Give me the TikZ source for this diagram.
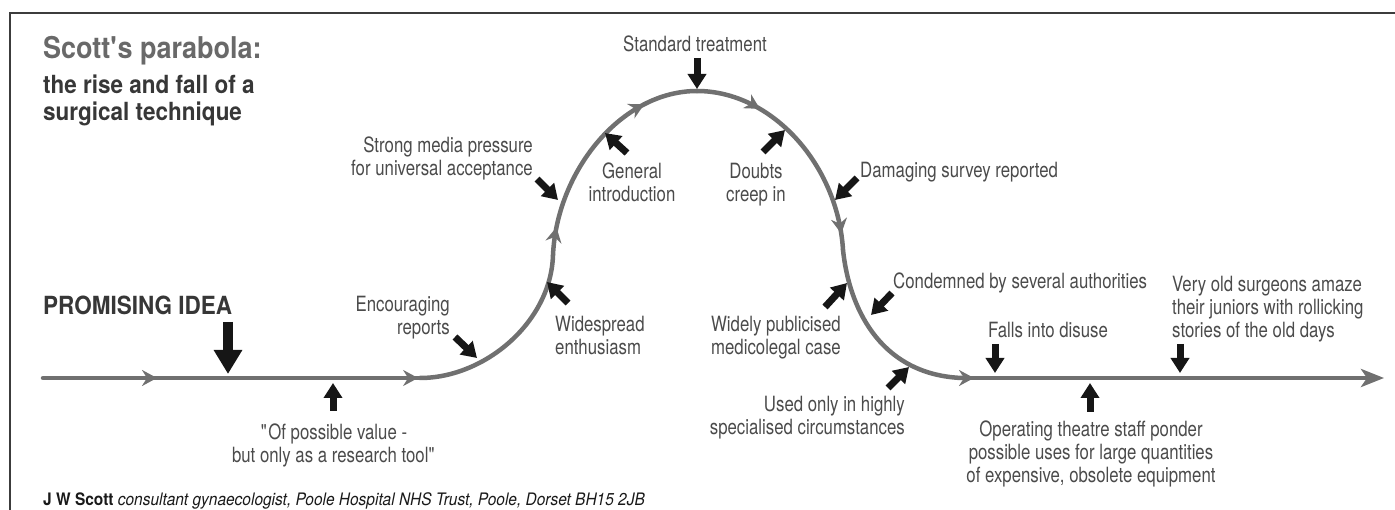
\documentclass[tikz,border=0pt]{standalone}
\usepackage{fontspec}
\setmainfont{TeX Gyre Heros}[FakeStretch=0.8]
\newfontfamily\headfont{TeX Gyre Heros}[FakeStretch=0.9]
\usetikzlibrary{arrows.meta, decorations.markings}
\definecolor{trackGray}{RGB}{112,112,112}
\definecolor{labelGray}{RGB}{75,75,75}
\definecolor{titleGray}{RGB}{105,105,105}
\definecolor{headDark}{RGB}{55,55,55}
\definecolor{frameDark}{RGB}{60,60,60}
\definecolor{pointerBlack}{RGB}{22,22,22}
\newcommand{\labelfont}{\fontsize{21}{23}\selectfont}
\tikzset{
    track/.style={draw=trackGray, line width=4.5pt, line cap=round},
    tick at/.style={
        postaction={decorate, decoration={markings,
            mark=at position #1 with {\arrow[trackGray]{Stealth[length=15pt, width=16pt, inset=5pt]}}}}
    },
    pointer/.style={draw=pointerBlack, line width=7pt, -{Triangle[length=15pt, width=18pt]}},
    bigpointer/.style={draw=pointerBlack, line width=10pt, -{Triangle[length=24pt, width=27pt]}},
    label/.style={font=\labelfont, text=labelGray, inner sep=0pt},
    heading/.style={font=\headfont\bfseries, inner sep=0pt, anchor=north west}
}

\begin{document}
\begin{tikzpicture}[x=1pt, y=-1pt]
    \useasboundingbox (0,0) rectangle (1395,510);
    % frame, top and left edges only
    \draw[frameDark, line width=2pt] (10,510) -- (10,13) -- (1395,13);

    % headings
    \node[heading, text=titleGray, font=\headfont\bfseries\fontsize{30}{32}\selectfont] (title) at (43,36) {Scott\textquotesingle s parabola:};
    \node[heading, text=headDark, align=left, font=\headfont\bfseries\fontsize{25}{27}\selectfont] (subtitle) at (43,75) {the rise and fall of a\\surgical technique};
    \node[heading, text=headDark, font=\headfont\bfseries\fontsize{25}{27}\selectfont] (idea) at (43,296) {PROMISING IDEA};

    % the parabola
    \coordinate (lineStart) at (43,378);
    \coordinate (riseStart) at (420,378);
    \coordinate (climb) at (553,255);
    \coordinate (peak) at (697,91);
    \coordinate (fall) at (843,250);
    \coordinate (settle) at (962,378);
    \coordinate (lineEnd) at (1384,378);

    \draw[track, tick at=114pt, tick at=0.995] (lineStart) -- (riseStart);
    \draw[track] (riseStart) .. controls (485,378) and (551,322) .. (climb);
    \draw[track, tick at=28pt, tick at=0.77] (climb) .. controls (557,170) and (622,91) .. (peak);
    \draw[track, tick at=0.28, tick at=0.93] (peak) .. controls (772,91) and (838,165) .. (fall);
    \draw[track] (fall) .. controls (850,315) and (885,375) .. (settle);
    \draw[track, tick at=12pt, -{Stealth[length=23pt, width=18pt, inset=6pt]}] (settle) -- (lineEnd);

    % labels
    \node[label, anchor=north] (standard) at (695,36) {Standard treatment};
    \node[label, anchor=north east, align=right] (media) at (533,137) {Strong media pressure\\for universal acceptance};
    \node[label, anchor=north, align=center] (general) at (632,163) {General\\introduction};
    \node[label, anchor=north, align=center] (doubts) at (756,163) {Doubts\\creep in};
    \node[label, anchor=north west] (survey) at (860,162) {Damaging survey reported};
    \node[label, anchor=north east, align=right] (encouraging) at (450,296) {Encouraging\\reports};
    \node[label, anchor=north west, align=left] (widespread) at (555,316) {Widespread\\enthusiasm};
    \node[label, anchor=north east, align=right] (publicised) at (841,316) {Widely publicised\\medicolegal case};
    \node[label, anchor=north west] (condemned) at (893,273) {Condemned by several authorities};
    \node[label, anchor=north east, align=right] (specialised) at (905,396) {Used only in highly\\specialised circumstances};
    \node[label, anchor=north west] (disuse) at (988,322) {Falls into disuse};
    \node[label, anchor=north west, align=left] (oldtimers) at (1172,276) {Very old surgeons amaze\\their juniors with rollicking\\stories of the old days};
    \node[label, anchor=north, align=center] (ponder) at (1091,421) {Operating theatre staff ponder\\possible uses for large quantities\\of expensive, obsolete equipment};
    \node[label, anchor=north, align=center] (research) at (334,424) {\textquotedbl Of possible value -\\but only as a research tool\textquotedbl};

    % pointer ends
    \coordinate (ideaTail) at (228,322);      \coordinate (ideaTip) at (228,374);
    \coordinate (researchTail) at (333,411);  \coordinate (researchTip) at (333,383);
    \coordinate (encTail) at (455,337);       \coordinate (encTip) at (477,358);
    \coordinate (wideTail) at (568,303);      \coordinate (wideTip) at (547,282);
    \coordinate (mediaTail) at (537,179);     \coordinate (mediaTip) at (558,200);
    \coordinate (generalTail) at (627,153);   \coordinate (generalTip) at (605,133);
    \coordinate (standardTail) at (697,58);   \coordinate (standardTip) at (697,89);
    \coordinate (doubtsTail) at (763,152);    \coordinate (doubtsTip) at (785,130);
    \coordinate (surveyTail) at (857,178);    \coordinate (surveyTip) at (835,200);
    \coordinate (pubTail) at (825,307);       \coordinate (pubTip) at (847,283);
    \coordinate (condTail) at (892,293);      \coordinate (condTip) at (871,315);
    \coordinate (specTail) at (888,388);      \coordinate (specTip) at (909,367);
    \coordinate (disuseTail) at (995,344);    \coordinate (disuseTip) at (995,373);
    \coordinate (ponderTail) at (1090,412);   \coordinate (ponderTip) at (1090,383);
    \coordinate (oldTail) at (1180,344);      \coordinate (oldTip) at (1180,373);

    \draw[bigpointer] (ideaTail) -- (ideaTip);
    \draw[pointer] (researchTail) -- (researchTip);
    \draw[pointer] (encTail) -- (encTip);
    \draw[pointer] (wideTail) -- (wideTip);
    \draw[pointer] (mediaTail) -- (mediaTip);
    \draw[pointer] (generalTail) -- (generalTip);
    \draw[pointer] (standardTail) -- (standardTip);
    \draw[pointer] (doubtsTail) -- (doubtsTip);
    \draw[pointer] (surveyTail) -- (surveyTip);
    \draw[pointer] (pubTail) -- (pubTip);
    \draw[pointer] (condTail) -- (condTip);
    \draw[pointer] (specTail) -- (specTip);
    \draw[pointer] (disuseTail) -- (disuseTip);
    \draw[pointer] (ponderTail) -- (ponderTip);
    \draw[pointer] (oldTail) -- (oldTip);

    % credit line
    \node[anchor=base west, inner sep=0pt, font=\headfont\fontsize{17.2}{19}\selectfont, text=black!90] (credit) at (43,505) {\textbf{J W Scott} \textit{consultant gynaecologist, Poole Hospital NHS Trust, Poole, Dorset BH15 2JB}};
\end{tikzpicture}
\end{document}
